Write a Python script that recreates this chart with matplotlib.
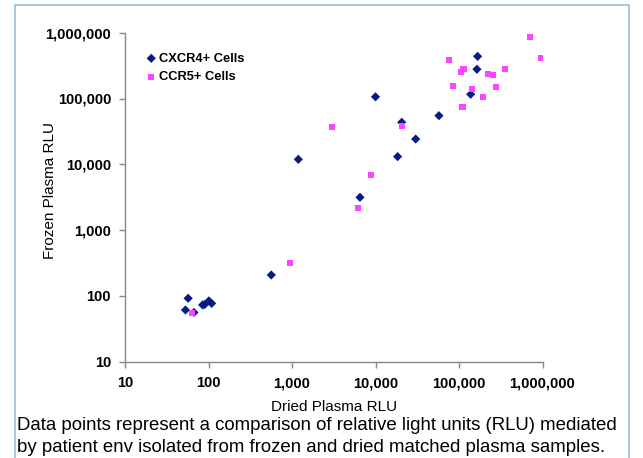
import matplotlib
matplotlib.use("Agg")
import matplotlib.pyplot as plt
from matplotlib.patches import Rectangle
from matplotlib.ticker import FixedLocator, FixedFormatter, NullLocator

plt.rcParams['font.family'] = ['Liberation Sans', 'DejaVu Sans']

# CXCR4+ cells (dried, frozen)
cxcr4_dried = [53, 57, 67, 85, 90, 101, 109, 565, 1190, 6520, 10000, 20600, 18400,
               30300, 57500, 138000, 167000, 164000]
cxcr4_frozen = [61, 92, 56, 73, 74, 84, 77, 208, 11900, 3150, 106000, 43500, 13100,
                24200, 54800, 116000, 437000, 278000]

# CCR5+ cells (dried, frozen)
ccr5_dried = [64, 946, 6220, 3010, 8750, 20900, 110000, 715000, 960000, 76600, 105000,
              113000, 224000, 255000, 359000, 84000, 144000, 280000, 192000]
ccr5_frozen = [55.6, 320, 2190, 36500, 6950, 37800, 75000, 869000, 417000, 385000, 255000,
               278000, 238000, 225000, 284000, 153000, 141000, 150000, 106000]

tick_values = [10, 100, 1000, 10000, 100000, 1000000]
tick_labels = ['10', '100', '1,000', '10,000', '100,000', '1,000,000']

fig = plt.figure(figsize=(6.43, 4.58), dpi=100)
fig.patch.set_facecolor('white')

# light blue frame
fig.patches.append(Rectangle((15 / 643, -0.05), (629 - 15) / 643, 1 - 5 / 458 + 0.05,
                             transform=fig.transFigure, fill=False,
                             edgecolor='#A4C2E4', linewidth=1.3))

ax = fig.add_axes([125 / 643, 1 - 361.7 / 458, (542.5 - 125) / 643, (361.7 - 32.7) / 458])
ax.set_xscale('log')
ax.set_yscale('log')
ax.set_xlim(10, 1000000)
ax.set_ylim(10, 1000000)

ax.scatter(cxcr4_dried, cxcr4_frozen, marker='D', s=22, color='#0A1A85',
           edgecolors='none', label='CXCR4+ Cells', zorder=3)
ax.scatter(ccr5_dried, ccr5_frozen, marker='s', s=20, color='#FF44FF',
           edgecolors='none', label='CCR5+ Cells', zorder=3)

for s in ['top', 'right']:
    ax.spines[s].set_visible(False)
for s in ['left', 'bottom']:
    ax.spines[s].set_color('#888888')
    ax.spines[s].set_linewidth(1.0)

for axis in (ax.xaxis, ax.yaxis):
    axis.set_major_locator(FixedLocator(tick_values))
    axis.set_major_formatter(FixedFormatter(tick_labels))
    axis.set_minor_locator(NullLocator())

ax.tick_params(axis='both', direction='out', length=4, width=1.0, color='#888888',
               labelsize=10.5, pad=6)
for lbl in ax.get_xticklabels() + ax.get_yticklabels():
    lbl.set_fontweight('bold')
ax.tick_params(axis='x', pad=6.5)

ax.set_xlabel('Dried Plasma RLU', fontsize=11, va='center')
ax.xaxis.set_label_coords(0.5, (361.7 - 407) / 329)
ax.set_ylabel('Frozen Plasma RLU', fontsize=11, va='center')
ax.yaxis.set_label_coords((50 - 125) / 417.5, (361.7 - 190) / 329)

leg = ax.legend(loc='upper left', bbox_to_anchor=(0.035, 0.955), frameon=False,
                prop={'weight': 'bold', 'size': 9.3}, handletextpad=0.1,
                handlelength=1.0, labelspacing=0.5, borderaxespad=0)

fig.text(17 / 643, 1 - 425 / 458,
         'Data points represent a comparison of relative light units (RLU) mediated',
         fontsize=13.45, va='center', ha='left')
fig.text(17 / 643, 1 - 447 / 458,
         'by patient env isolated from frozen and dried matched plasma samples.',
         fontsize=13.45, va='center', ha='left')

fig.savefig('out.png', dpi=100)
